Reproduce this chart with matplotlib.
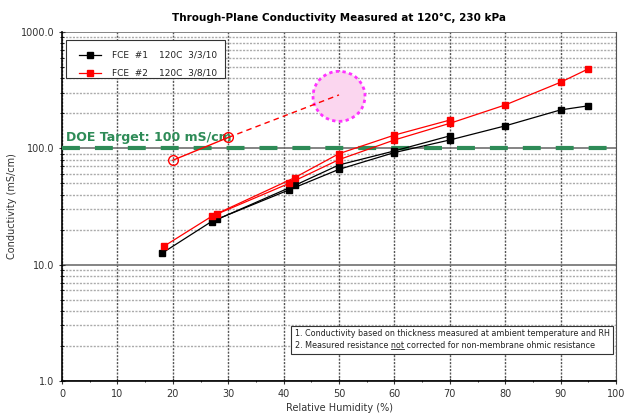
import matplotlib
matplotlib.use("Agg")
import matplotlib.pyplot as plt
from matplotlib.patches import Ellipse, Rectangle
from matplotlib.lines import Line2D
import matplotlib.ticker as mticker

# ---- data ----
rh_fce1_a = [18, 27, 41, 50, 60, 70, 80, 90, 95]
cond_fce1_a = [12.5, 23.5, 44, 66, 92, 118, 156, 214, 232]
rh_fce1_b = [70, 60, 50, 42, 28]
cond_fce1_b = [128, 95, 72, 48, 24.5]

rh_fce2_a = [18.5, 27, 41, 50, 60, 70, 80, 90, 95]
cond_fce2_a = [14.5, 26, 50, 80, 118, 164, 236, 370, 482]
rh_fce2_b = [70, 60, 50, 42, 28]
cond_fce2_b = [175, 130, 90, 56, 27.5]

rh_proj = [20, 30]
cond_proj = [79, 124]
rh_proj_ext = [30, 50]
cond_proj_ext = [124, 288]
target_center = (50, 280)

doe_target = 100
x_ticks = [0, 10, 20, 30, 40, 50, 60, 70, 80, 90, 100]
y_ticks = [1, 10, 100, 1000]
y_ticklabels = ["1.0", "10.0", "100.0", "1000.0"]
legend_labels = ["FCE  #1", "FCE  #2"]
legend_dates = ["120C  3/3/10", "120C  3/8/10"]

# ---- figure ----
fig = plt.figure(figsize=(6.25, 4.19), dpi=100)
ax = fig.add_axes([0.0992, 0.0907, 0.8864, 0.8329])
ax.set_yscale("log")
ax.set_xlim(0, 100)
ax.set_ylim(1, 1000)

# grid
ax.set_xticks(x_ticks)
ax.xaxis.set_minor_locator(mticker.MultipleLocator(5))
ax.set_yticks(y_ticks)
ax.set_yticklabels(y_ticklabels)
ax.yaxis.set_minor_locator(mticker.LogLocator(base=10, subs=range(2, 10)))
ax.yaxis.set_minor_formatter(mticker.NullFormatter())
ax.grid(True, which="minor", axis="y", color="#ababab", linestyle=(0, (1.5, 1)), linewidth=1.0)
ax.grid(True, which="major", axis="y", color="#707070", linestyle="-", linewidth=1.2)
ax.grid(True, which="major", axis="x", color="#555555", linestyle=(0, (1.5, 1)), linewidth=1.0)
ax.set_axisbelow(True)
ax.spines["top"].set_visible(False)
ax.spines["right"].set_color("#555555")
ax.spines["left"].set_linewidth(1.2)
ax.spines["bottom"].set_linewidth(1.2)
ax.tick_params(axis="both", which="major", labelsize=7, length=4, direction="inout", color="#333333", labelcolor="#333333")
ax.tick_params(axis="x", which="minor", length=2, direction="inout")
ax.tick_params(axis="y", which="minor", length=3, direction="inout")

# DOE target
ax.axhline(doe_target, xmin=0, xmax=1.008, color="#2e8b57", linewidth=3.0,
           linestyle=(0, (4.3, 3.6)), clip_on=False, zorder=3)
ax.text(0.8, 108, "DOE Target: 100 mS/cm", color="#2e8b57", fontsize=9,
        fontweight="bold", ha="left", va="bottom", zorder=4)

# series
ax.plot(rh_fce1_a, cond_fce1_a, color="black", marker="s", markersize=4, linewidth=0.9,
        label=legend_labels[0], zorder=5)
ax.plot(rh_fce1_b, cond_fce1_b, color="black", marker="s", markersize=4, linewidth=0.9, zorder=5)
ax.plot(rh_fce2_a, cond_fce2_a, color="red", marker="s", markersize=4, linewidth=0.9,
        label=legend_labels[1], zorder=6)
ax.plot(rh_fce2_b, cond_fce2_b, color="red", marker="s", markersize=4, linewidth=0.9, zorder=6)

# projection
ax.plot(rh_proj, cond_proj, color="red", marker="o", markersize=7, markerfacecolor="none",
        markeredgewidth=1.0, linewidth=1.0, zorder=6)
ax.plot(rh_proj_ext, cond_proj_ext, color="red", linestyle=(0, (4, 3)), linewidth=1.0, zorder=6)

# target circle
cx, cy = target_center
px, py = ax.transData.transform((cx, cy))
ax_c = ax.transAxes.inverted().transform((px, py))
bbox = ax.get_window_extent()
w = 52 / bbox.width
h = 50 / bbox.height
ell = Ellipse(ax_c, w, h, transform=ax.transAxes, facecolor="#fbd6ef", edgecolor="#ff33ff",
              linestyle=(0, (1.2, 1.2)), linewidth=2.0, zorder=4)
ax.add_patch(ell)

# legend box (manual frame) + legend
ax.add_patch(Rectangle((0.0072, 0.868), 0.287, 0.109, transform=ax.transAxes,
                       facecolor="white", edgecolor="#333333", linewidth=0.8, zorder=9))
leg = ax.legend(loc="upper left", bbox_to_anchor=(0.012, 0.975), fontsize=6.5, frameon=False,
                handlelength=2.5, borderpad=0.6, labelspacing=1.0, handletextpad=1.2)
leg.set_zorder(10)
for t in leg.get_texts():
    t.set_color("#222222")

fig.canvas.draw()
renderer = fig.canvas.get_renderer()
for t, d in zip(leg.get_texts(), legend_dates):
    tbb = t.get_window_extent(renderer)
    xd = ax.transData.transform((17.5, 1))[0]
    ycen = (tbb.y0 + tbb.y1) / 2
    fx, fy = fig.transFigure.inverted().transform((xd, ycen))
    fig.text(fx, fy, d, fontsize=6.5, color="#222222", va="center", ha="left", zorder=11)

# labels
ax.set_title("Through-Plane Conductivity Measured at 120°C, 230 kPa", fontsize=7.5,
             fontweight="bold", pad=8)
ax.set_xlabel("Relative Humidity (%)", fontsize=7, color="#333333", labelpad=3)
ax.set_ylabel("Conductivity (mS/cm)", fontsize=7, color="#333333", labelpad=3)

# note box
line1 = "1. Conductivity based on thickness measured at ambient temperature and RH"
line2 = "2. Measured resistance not corrected for non-membrane ohmic resistance"
note = ax.text(0.42, 0.118, line1 + "\n" + line2, transform=ax.transAxes, fontsize=5.8,
               color="#222222", ha="left", va="center", linespacing=1.45, zorder=10,
               bbox=dict(boxstyle="square,pad=0.4", facecolor="white", edgecolor="#333333", linewidth=0.8))

fig.canvas.draw()
tb = note.get_window_extent(renderer)
def width_of(s):
    t = fig.text(0, 0, s, fontsize=5.8)
    wdt = t.get_window_extent(renderer).width
    t.remove()
    return wdt
w_pre = width_of("2. Measured resistance not")
w_not = width_of("not")
x0 = tb.x0 + w_pre - w_not
x1 = tb.x0 + w_pre
ybase = tb.y0 + 1.5
fx0, fy = fig.transFigure.inverted().transform((x0, ybase))
fx1, _ = fig.transFigure.inverted().transform((x1, ybase))
fig.add_artist(Line2D([fx0, fx1], [fy, fy], transform=fig.transFigure, color="#222222",
                      linewidth=0.6, zorder=20))

fig.savefig("out.png", dpi=100)
